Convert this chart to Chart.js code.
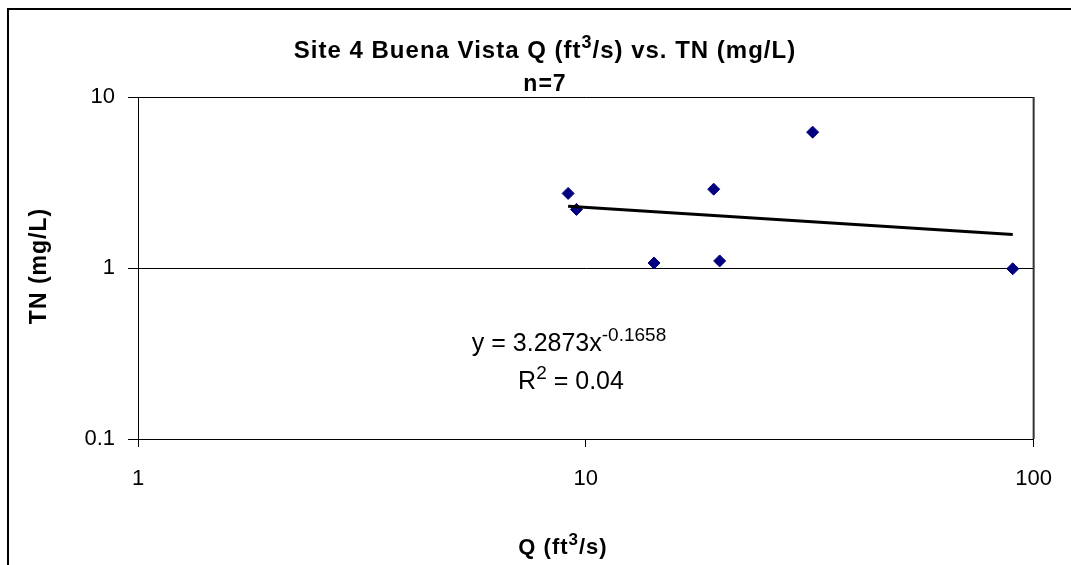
<!DOCTYPE html>
<html>
<head>
<meta charset="utf-8">
<script src="https://cdn.jsdelivr.net/npm/chart.js@4"></script>
<style>
  body { margin: 0; background: #fff; }
</style>
</head>
<body>
<canvas id="grafico" width="1071" height="565"></canvas>
<script>
// Valores (vazão x nitrogênio total)
const vazao = [9.13, 9.53, 14.2, 19.3, 19.9, 32.1, 89.8];
const nitrogenio = [2.73, 2.20, 1.07, 2.89, 1.10, 6.23, 0.99];

// Linha de tendência (extremos)
const tendenciaX = [9.13, 89.8];
const tendenciaY = [2.30, 1.57];

// Marcas dos eixos
const ticksX = [1, 10, 100];
const ticksY = [0.1, 1, 10];

const FONTE = "'Liberation Sans', Arial, sans-serif";

// Escreve texto com partes sobrescritas, centralizado em x
function textoRico(ctx, partes, x, y, tam, peso) {
    const supTam = Math.round(tam * 0.75);
    let total = 0;
    partes.forEach(p => {
        ctx.font = `${peso} ${p.sup ? supTam : tam}px ${FONTE}`;
        total += ctx.measureText(p.t).width;
    });
    let cx = x - total / 2;
    partes.forEach(p => {
        ctx.font = `${peso} ${p.sup ? supTam : tam}px ${FONTE}`;
        ctx.fillText(p.t, cx, p.sup ? y - tam * 0.42 : y);
        cx += ctx.measureText(p.t).width;
    });
}

// Moldura, títulos e equação
const decoracao = {
    id: "decoracao",
    afterDraw(chart) {
        const ctx = chart.ctx;
        const area = chart.chartArea;
        ctx.save();

        // moldura externa
        ctx.strokeStyle = "#000";
        ctx.lineWidth = 2;
        ctx.beginPath();
        ctx.moveTo(8, 565);
        ctx.lineTo(8, 9);
        ctx.lineTo(1071, 9);
        ctx.stroke();

        // borda direita da área do gráfico
        ctx.strokeStyle = "#333";
        ctx.lineWidth = 2;
        ctx.beginPath();
        ctx.moveTo(area.right, area.top);
        ctx.lineTo(area.right, area.bottom);
        ctx.stroke();

        ctx.fillStyle = "#000";
        ctx.textAlign = "left";
        ctx.textBaseline = "alphabetic";
        ctx.letterSpacing = "1px";

        // título
        textoRico(ctx, [
            { t: "Site 4 Buena Vista Q (ft" }, { t: "3", sup: true },
            { t: "/s) vs. TN (mg/L)" }
        ], 545, 58, 24, "bold");
        textoRico(ctx, [{ t: "n=7" }], 545, 91, 23, "bold");

        // título eixo x
        textoRico(ctx, [
            { t: "Q (ft" }, { t: "3", sup: true }, { t: "/s)" }
        ], 563, 554, 22, "bold");

        // título eixo y
        ctx.save();
        ctx.translate(46, 266);
        ctx.rotate(-Math.PI / 2);
        textoRico(ctx, [{ t: "TN (mg/L)" }], 0, 0, 23, "bold");
        ctx.restore();

        // equação da tendência
        ctx.letterSpacing = "0px";
        textoRico(ctx, [
            { t: "y = 3.2873x" }, { t: "-0.1658", sup: true }
        ], 569, 351, 25, "normal");
        textoRico(ctx, [
            { t: "R" }, { t: "2", sup: true }, { t: " = 0.04" }
        ], 571, 389, 25, "normal");

        ctx.restore();
    }
};

const ctx = document.getElementById("grafico").getContext("2d");

const pontos = vazao.map((q, i) => ({ x: q, y: nitrogenio[i] }));
const tendencia = tendenciaX.map((q, i) => ({ x: q, y: tendenciaY[i] }));

const fonteTicks = { family: FONTE, size: 22 };

new Chart(ctx, {
    type: "scatter",
    data: {
        datasets: [
            {
                label: "TN",
                data: pontos,
                pointStyle: "rectRot",
                pointRadius: 6,
                backgroundColor: "#000080",
                borderColor: "#000080",
                borderWidth: 1,
                order: 2
            },
            {
                label: "Tendência",
                type: "line",
                data: tendencia,
                showLine: true,
                borderColor: "#000",
                borderWidth: 3,
                pointRadius: 0,
                fill: false,
                order: 1
            }
        ]
    },
    options: {
        responsive: false,
        animation: false,
        layout: { padding: { top: 97, right: 32, left: 0, bottom: 0 } },
        plugins: {
            legend: { display: false },
            tooltip: { enabled: false },
            title: { display: false }
        },
        scales: {
            x: {
                type: "logarithmic",
                min: 1,
                max: 100,
                afterBuildTicks: s => { s.ticks = ticksX.map(v => ({ value: v })); },
                afterFit: s => { s.height = 126; },
                grid: { drawOnChartArea: false, drawTicks: true, tickLength: 8, color: "#000" },
                border: { color: "#000", width: 1 },
                ticks: {
                    color: "#000",
                    font: fonteTicks,
                    padding: 19,
                    maxRotation: 0,
                    autoSkip: false,
                    callback: v => String(v)
                }
            },
            y: {
                type: "logarithmic",
                min: 0.1,
                max: 10,
                afterBuildTicks: s => { s.ticks = ticksY.map(v => ({ value: v })); },
                afterFit: s => { s.width = 138; },
                grid: { color: "#000", tickLength: 10 },
                border: { color: "#000", width: 1 },
                ticks: {
                    color: "#000",
                    font: fonteTicks,
                    padding: 13,
                    autoSkip: false,
                    callback: v => String(v)
                }
            }
        }
    },
    plugins: [decoracao]
});
</script>
</body>
</html>
